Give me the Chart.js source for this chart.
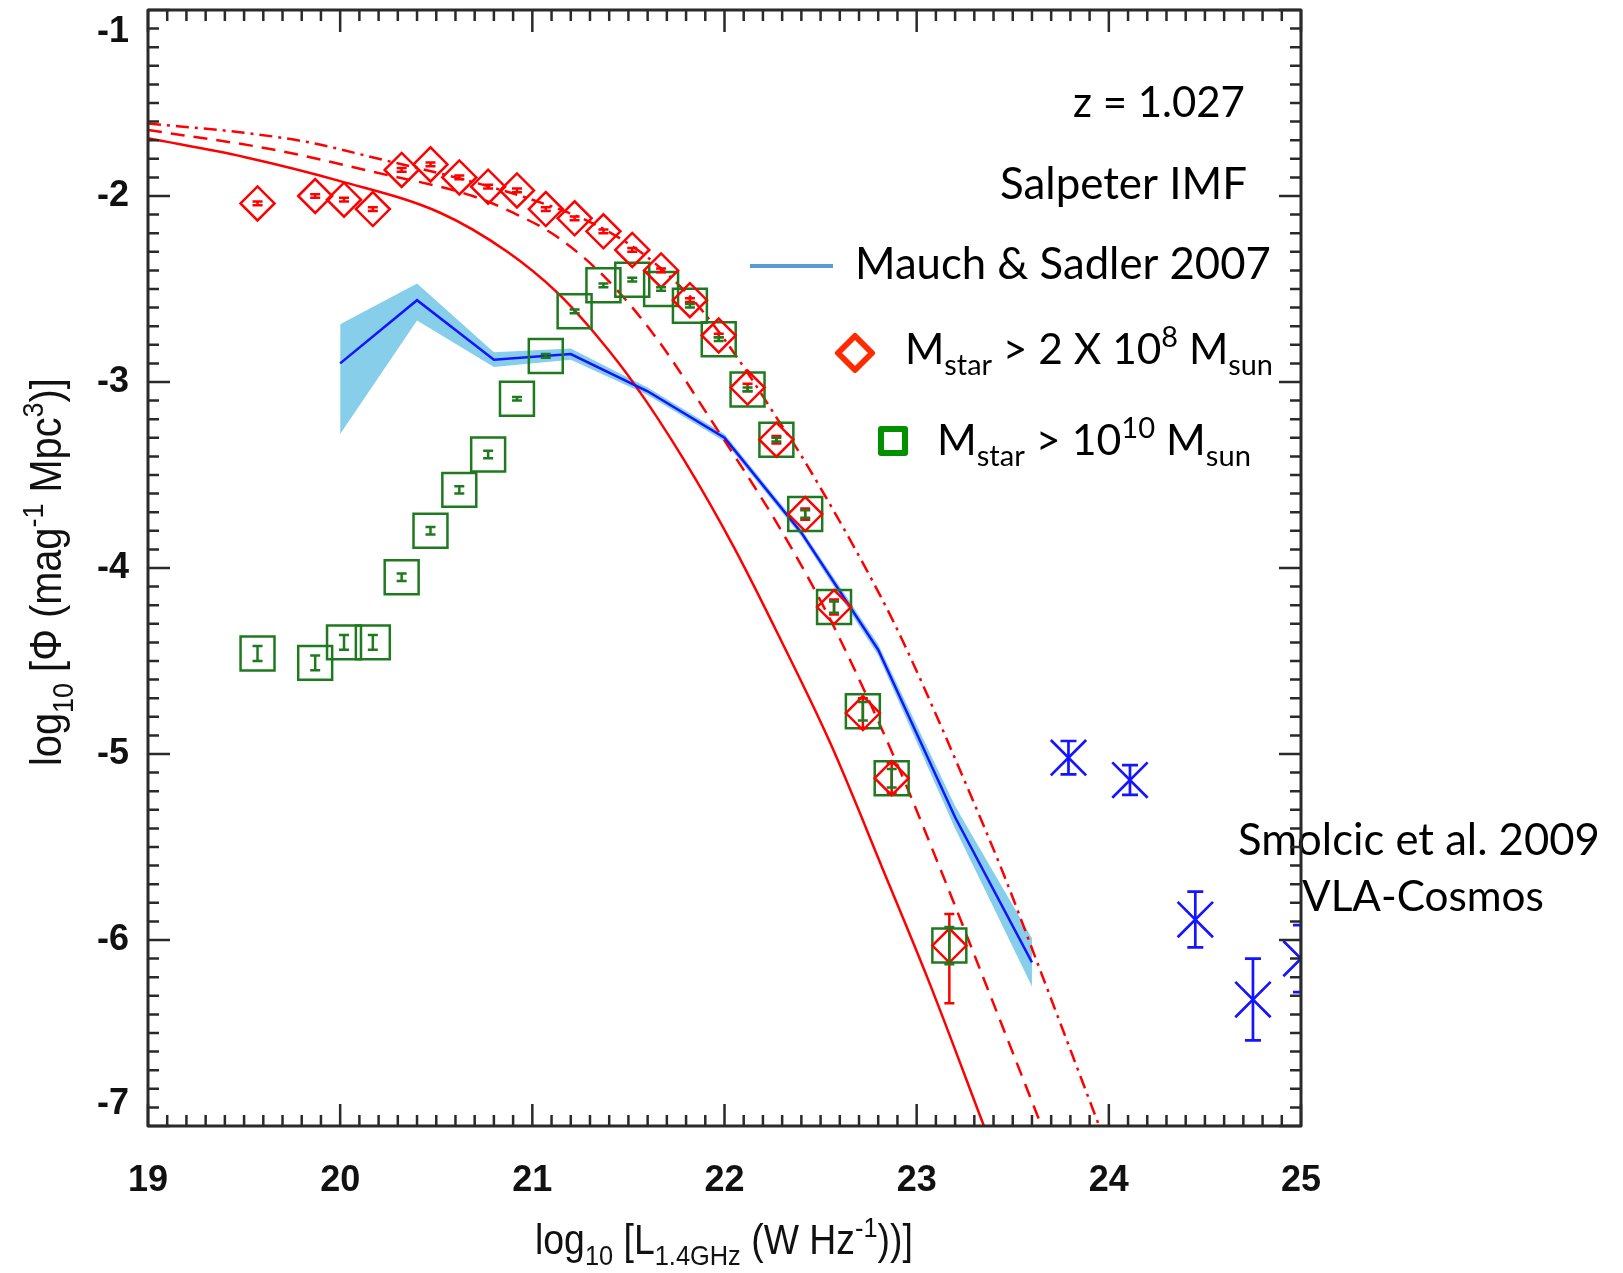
<!DOCTYPE html>
<html>
<head>
<meta charset="utf-8">
<title>Radio luminosity function z = 1.027</title>
<script src="https://cdn.jsdelivr.net/npm/chart.js@4.4.0/dist/chart.umd.min.js"></script>
<style>
  html, body { margin: 0; padding: 0; background: #fff; }
  canvas { display: block; }
</style>
</head>
<body>
<canvas id="lf" width="1623" height="1273"></canvas>
<script>
// --- data ---
var xTickVals = [19, 20, 21, 22, 23, 24, 25];
var yTickVals = [-7, -6, -5, -4, -3, -2, -1];

// luminosity bins of the model galaxies
var binX = [19.57, 19.87, 20.02, 20.17, 20.32, 20.47, 20.62, 20.77, 20.92, 21.07, 21.22, 21.37,
            21.52, 21.67, 21.82, 21.97, 22.12, 22.27, 22.42, 22.57, 22.72, 22.87, 23.17];

// M_star > 2 x 10^8 M_sun (red diamonds)
var redY     = [-2.04, -2.00, -2.02, -2.07, -1.86, -1.83, -1.90, -1.95, -1.97, -2.07, -2.12, -2.19,
                -2.29, -2.40, -2.56, -2.75, -3.03, -3.31, -3.71, -4.21, -4.78, -5.13, -6.03];
var redErrHi = [0.01, 0.01, 0.01, 0.01, 0.01, 0.01, 0.01, 0.01, 0.01, 0.01, 0.01, 0.01,
                0.01, 0.01, 0.01, 0.01, 0.02, 0.02, 0.03, 0.04, 0.08, 0.08, 0.17];
var redErrLo = [0.01, 0.01, 0.01, 0.01, 0.01, 0.01, 0.01, 0.01, 0.01, 0.01, 0.01, 0.01,
                0.01, 0.01, 0.01, 0.01, 0.02, 0.02, 0.03, 0.04, 0.08, 0.08, 0.31];

// M_star > 10^10 M_sun (green squares)
var greenY   = [-4.46, -4.51, -4.40, -4.40, -4.05, -3.80, -3.58, -3.39, -3.09, -2.86, -2.62, -2.48,
                -2.45, -2.50, -2.59, -2.77, -3.04, -3.31, -3.71, -4.21, -4.77, -5.13, -6.03];
var greenErr = [0.04, 0.04, 0.04, 0.04, 0.02, 0.02, 0.02, 0.02, 0.01, 0.01, 0.01, 0.01,
                0.01, 0.01, 0.01, 0.01, 0.01, 0.01, 0.02, 0.03, 0.05, 0.05, 0.1];

// Mauch & Sadler 2007 with its uncertainty band
var msX  = [20.0, 20.4, 20.8, 21.2, 21.6, 22.0, 22.4, 22.8, 23.2, 23.6];
var msY  = [-2.90, -2.56, -2.88, -2.85, -3.05, -3.30, -3.81, -4.44, -5.34, -6.12];
var msHi = [-2.69, -2.47, -2.84, -2.82, -3.03, -3.28, -3.79, -4.41, -5.28, -5.99];
var msLo = [-3.28, -2.67, -2.92, -2.88, -3.07, -3.32, -3.83, -4.47, -5.40, -6.25];

// Smolcic et al. 2009, VLA-Cosmos
var smolX   = [23.79, 24.11, 24.45, 24.75, 25.0];
var smolY   = [-5.02, -5.14, -5.89, -6.32, -6.10];
var smolErr = [0.09, 0.08, 0.15, 0.22, 0.18];

// model curves (solid, dashed, dash-dot)
var solidX = [19.0, 19.5, 20.0, 20.52, 20.87, 21.13, 21.35, 21.53, 21.79, 22.05, 22.29, 22.55, 22.84, 23.07, 23.35];
var solidY = [-1.69, -1.79, -1.92, -2.09, -2.30, -2.52, -2.77, -3.01, -3.42, -3.89, -4.38, -4.94, -5.66, -6.24, -7.00];
var dashX  = [19.0, 19.65, 20.17, 20.69, 20.9, 21.13, 21.39, 21.65, 21.94, 22.25, 22.45, 22.60, 22.88, 23.12, 23.38, 23.65];
var dashY  = [-1.645, -1.75, -1.87, -2.00, -2.09, -2.22, -2.45, -2.77, -3.22, -3.72, -4.08, -4.38, -5.01, -5.61, -6.29, -7.00];
var ddX    = [19.0, 19.5, 19.83, 20.2, 20.6, 21.0, 21.3, 21.52, 21.67, 21.82, 21.97, 22.12, 22.27, 22.39,
              22.60, 22.76, 22.88, 23.02, 23.26, 23.45, 23.62, 23.95];
var ddY    = [-1.61, -1.66, -1.71, -1.80, -1.90, -2.02, -2.14, -2.27, -2.39, -2.54, -2.73, -2.95, -3.19, -3.38,
              -3.75, -4.05, -4.29, -4.60, -5.17, -5.64, -6.10, -7.00];

function pts(xs, ys) {
    return xs.map(function (v, i) { return { x: v, y: ys[i] }; });
}

// --- text helpers (sub / superscripts) ---
function setFont(ctx, size, family) {
    ctx.font = size + 'px ' + family;
}
function measureRich(ctx, parts, size, family) {
    var w = 0;
    parts.forEach(function (p) {
        setFont(ctx, p[1] ? size * 0.68 : size, family);
        w += ctx.measureText(p[0]).width;
    });
    return w;
}
// draws parts so that they fill `width` pixels
function drawRich(ctx, parts, x, y, width, family, align) {
    var size = 100 * width / measureRich(ctx, parts, 100, family);
    var cx = align === 'right' ? x - width : (align === 'center' ? x - width / 2 : x);
    ctx.textAlign = 'left';
    ctx.textBaseline = 'alphabetic';
    parts.forEach(function (p) {
        var dy = p[1] === 'sub' ? size * 0.26 : (p[1] === 'sup' ? -size * 0.40 : 0);
        setFont(ctx, p[1] ? size * 0.68 : size, family);
        ctx.fillText(p[0], cx, y + dy);
        cx += ctx.measureText(p[0]).width;
    });
}

var decorations = {
    id: 'decorations',
    afterDatasetsDraw: function (chart) {
        var ctx = chart.ctx, area = chart.chartArea;
        var xs = chart.scales.x, ys = chart.scales.y;
        ctx.save();
        ctx.beginPath();
        ctx.rect(area.left, area.top, area.right - area.left, area.bottom - area.top);
        ctx.clip();
        chart.data.datasets.forEach(function (ds) {
            if (!ds.errHi) return;
            ctx.strokeStyle = ds.borderColor;
            ctx.lineWidth = ds.errWidth;
            ds.data.forEach(function (p, i) {
                var px = xs.getPixelForValue(p.x);
                var top = ys.getPixelForValue(p.y + ds.errHi[i]);
                var bot = ys.getPixelForValue(p.y - ds.errLo[i]);
                var c = ds.capWidth;
                ctx.beginPath();
                ctx.moveTo(px, top); ctx.lineTo(px, bot);
                ctx.moveTo(px - c, top); ctx.lineTo(px + c, top);
                ctx.moveTo(px - c, bot); ctx.lineTo(px + c, bot);
                ctx.stroke();
            });
        });
        ctx.restore();
    },
    afterDraw: function (chart) {
        var ctx = chart.ctx, area = chart.chartArea;
        var xs = chart.scales.x, ys = chart.scales.y;
        ctx.save();

        // annotations and legend
        ctx.fillStyle = '#000';
        drawRich(ctx, [['z = 1.027', '']], 1245, 117, 172, 'Lato', 'right');
        drawRich(ctx, [['Salpeter IMF', '']], 1000, 199, 247, 'Lato', 'left');
        drawRich(ctx, [['Mauch & Sadler 2007', '']], 855, 279, 416, 'Lato', 'left');
        drawRich(ctx, [['M', ''], ['star', 'sub'], [' > 2 X 10', ''], ['8', 'sup'], [' M', ''], ['sun', 'sub']],
                 905, 364, 368, 'Lato', 'left');
        drawRich(ctx, [['M', ''], ['star', 'sub'], [' > 10', ''], ['10', 'sup'], [' M', ''], ['sun', 'sub']],
                 937, 455, 314, 'Lato', 'left');
        drawRich(ctx, [['Smolcic et al. 2009', '']], 1238, 855, 362, 'Lato', 'left');
        drawRich(ctx, [['VLA-Cosmos', '']], 1302, 911, 242, 'Lato', 'left');

        ctx.lineJoin = 'round';
        ctx.strokeStyle = '#5b9bd5';
        ctx.lineWidth = 4;
        ctx.beginPath(); ctx.moveTo(750, 266); ctx.lineTo(833, 266); ctx.stroke();
        ctx.strokeStyle = '#ff2a00';
        ctx.lineWidth = 6;
        ctx.beginPath();
        ctx.moveTo(838, 353); ctx.lineTo(855, 336); ctx.lineTo(872, 353); ctx.lineTo(855, 370);
        ctx.closePath(); ctx.stroke();
        ctx.strokeStyle = '#009000';
        ctx.strokeRect(881, 429, 24, 24);

        // axis titles
        ctx.fillStyle = '#111';
        ctx.save();
        ctx.translate(535, 1254);
        ctx.scale(1, 1.12);
        drawRich(ctx, [['log', ''], ['10', 'sub'], [' [L', ''], ['1.4GHz', 'sub'], [' (W Hz', ''], ['-1', 'sup'], ['))]', '']],
                 0, 0, 378, 'Liberation Sans', 'left');
        ctx.restore();
        ctx.save();
        ctx.translate(61, 572);
        ctx.rotate(-Math.PI / 2);
        ctx.scale(1, 1.12);
        drawRich(ctx, [['log', ''], ['10', 'sub'], [' [\u03A6 (mag', ''], ['-1', 'sup'], [' Mpc', ''], ['3', 'sup'], [')]', '']],
                 0, 0, 388, 'Liberation Sans', 'center');
        ctx.restore();

        // frame with inward major and minor ticks on all sides
        ctx.strokeStyle = '#2a2a2a';
        ctx.lineWidth = 2.5;
        ctx.beginPath();
        var k, v, p, len;
        for (k = 0; k <= 60; k++) {
            v = 19 + k / 10;
            p = xs.getPixelForValue(v);
            len = k % 10 === 0 ? 22 : 11;
            ctx.moveTo(p, area.bottom); ctx.lineTo(p, area.bottom - len);
            ctx.moveTo(p, area.top); ctx.lineTo(p, area.top + len);
        }
        for (k = 0; k <= 60; k++) {
            v = -7 + k / 10;
            p = ys.getPixelForValue(v);
            len = k % 10 === 0 ? 22 : 11;
            ctx.moveTo(area.left, p); ctx.lineTo(area.left + len, p);
            ctx.moveTo(area.right, p); ctx.lineTo(area.right - len, p);
        }
        ctx.stroke();
        ctx.lineWidth = 3;
        ctx.strokeRect(area.left, area.top, area.right - area.left, area.bottom - area.top);
        ctx.restore();
    }
};

var red = '#ff0000';
var green = '#1f7a1f';
var blue = '#1414ff';

var chart = new Chart(document.getElementById('lf').getContext('2d'), {
    type: 'scatter',
    data: {
        datasets: [
            {
                label: 'M_star > 2 X 10^8 M_sun',
                data: pts(binX, redY),
                pointStyle: 'rectRot', pointRadius: 17, borderWidth: 2.5,
                borderColor: red, backgroundColor: 'rgba(0,0,0,0)',
                errHi: redErrHi, errLo: redErrLo, capWidth: 5, errWidth: 2.5,
                order: 0
            },
            {
                label: 'M_star > 10^10 M_sun',
                data: pts(binX, greenY),
                pointStyle: 'rect', pointRadius: 24, borderWidth: 2.5,
                borderColor: green, backgroundColor: 'rgba(0,0,0,0)',
                errHi: greenErr, errLo: greenErr, capWidth: 5, errWidth: 2.5,
                order: 1
            },
            {
                label: 'Smolcic et al. 2009',
                data: pts(smolX, smolY),
                pointStyle: 'crossRot', pointRadius: 25, borderWidth: 2.7,
                borderColor: blue, backgroundColor: blue,
                errHi: smolErr, errLo: smolErr, capWidth: 8, errWidth: 2.7,
                clip: 0,
                order: 1
            },
            {
                label: 'Mauch & Sadler 2007',
                data: pts(msX, msY),
                showLine: true, pointRadius: 0, borderWidth: 2.5,
                borderColor: blue, fill: false,
                order: 2
            },
            {
                label: 'model solid',
                data: pts(solidX, solidY),
                showLine: true, pointRadius: 0, borderWidth: 2.5, borderColor: red,
                cubicInterpolationMode: 'monotone', fill: false,
                order: 3
            },
            {
                label: 'model dashed',
                data: pts(dashX, dashY),
                showLine: true, pointRadius: 0, borderWidth: 2.5, borderColor: red,
                borderDash: [14, 9],
                cubicInterpolationMode: 'monotone', fill: false,
                order: 3
            },
            {
                label: 'model dash-dot',
                data: pts(ddX, ddY),
                showLine: true, pointRadius: 0, borderWidth: 2.5, borderColor: red,
                borderDash: [13, 6, 3, 6],
                cubicInterpolationMode: 'monotone', fill: false,
                order: 3
            },
            {
                label: 'band low',
                data: pts(msX, msLo),
                showLine: true, pointRadius: 0, borderWidth: 0,
                borderColor: 'rgba(0,0,0,0)', fill: false,
                order: 5
            },
            {
                label: 'band high',
                data: pts(msX, msHi),
                showLine: true, pointRadius: 0, borderWidth: 0,
                borderColor: 'rgba(0,0,0,0)', backgroundColor: 'rgb(135,206,235)',
                fill: '-1',
                order: 5
            }
        ]
    },
    options: {
        responsive: false,
        animation: false,
        events: [],
        layout: { autoPadding: false, padding: { top: 10, right: 322, left: 0, bottom: 0 } },
        plugins: {
            legend: { display: false },
            tooltip: { enabled: false }
        },
        scales: {
            x: {
                type: 'linear', min: 19, max: 25,
                afterBuildTicks: function (s) { s.ticks = xTickVals.map(function (v) { return { value: v }; }); },
                afterFit: function (s) { s.height = 147; s.paddingLeft = 0; s.paddingRight = 0; },
                grid: { display: false, drawTicks: false },
                border: { display: false },
                ticks: {
                    padding: 33, maxRotation: 0, autoSkip: false, color: '#111',
                    font: { family: 'Liberation Sans', size: 36, weight: 'bold' }
                }
            },
            y: {
                type: 'linear', min: -7, max: -1,
                afterBuildTicks: function (s) { s.ticks = yTickVals.map(function (v) { return { value: v }; }); },
                afterFit: function (s) { s.width = 148; s.paddingTop = 0; s.paddingBottom = 0; },
                grid: { display: false, drawTicks: false },
                border: { display: false },
                ticks: {
                    padding: 19, autoSkip: false, color: '#111',
                    font: { family: 'Liberation Sans', size: 36, weight: 'bold' },
                    // end labels sit inside the frame, as in the original plot
                    callback: function (v) {
                        if (v === -1) return ['', '-1'];
                        if (v === -7) return ['-7', ''];
                        return String(v);
                    }
                }
            }
        }
    },
    plugins: [decorations]
});
</script>
</body>
</html>
